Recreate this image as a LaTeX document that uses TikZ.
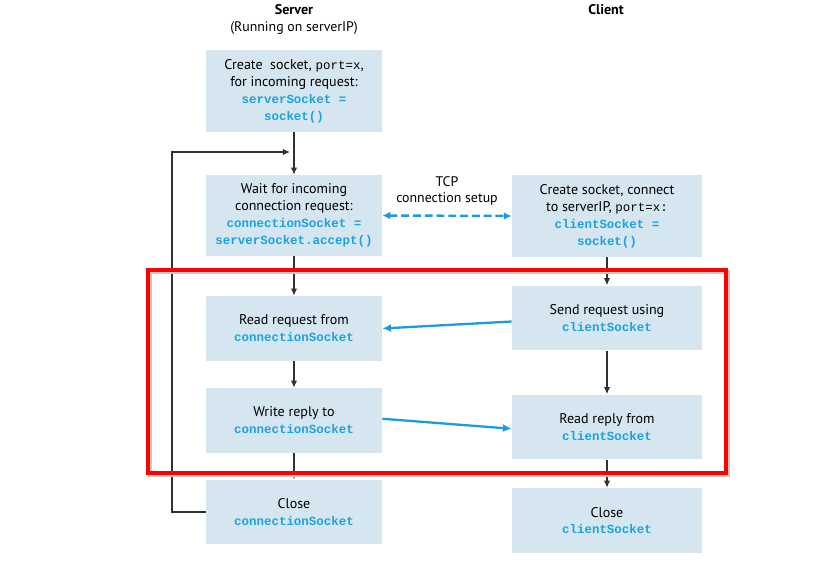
\documentclass[tikz,border=0pt]{standalone}
\usepackage{fontspec}
\setmainfont{PT Sans}
\newfontfamily\codefont{Liberation Mono}
\usetikzlibrary{arrows.meta}

\definecolor{boxfill}{RGB}{213,230,241}
\definecolor{codeblue}{RGB}{27,163,222}
\definecolor{linkblue}{RGB}{30,155,218}
\definecolor{flowgray}{RGB}{50,50,50}

\newcommand{\sockname}[1]{{\codefont\fontsize{7.1}{9.6}\selectfont\bfseries\color{codeblue}#1}}
\newcommand{\plaincode}[1]{{\codefont\fontsize{7.1}{9.6}\selectfont #1}}

\begin{document}
\begin{tikzpicture}[x=0.02cm,y=-0.02cm,
  stepbox/.style={fill=boxfill,align=center,inner sep=0pt,font=\fontsize{8}{9.6}\selectfont},
  serverbox/.style={stepbox,minimum width=3.52cm,minimum height=1.3cm},
  clientbox/.style={stepbox,minimum width=3.8cm,minimum height=1.3cm},
  title/.style={align=center,font=\fontsize{7.9}{9.6}\selectfont},
  flow/.style={draw=flowgray,line width=0.6pt,-{Latex[length=4pt,width=3.6pt]}},
  msg/.style={draw=linkblue,line width=1.3pt,-{Latex[length=5pt,width=4.6pt]}},
  handshake/.style={draw=linkblue,line width=1.4pt,dash pattern=on 4.5pt off 2.2pt,{Latex[length=4.5pt,width=4.5pt]}-{Latex[length=4.5pt,width=4.5pt]}}]

\useasboundingbox (0,0) rectangle (815,561);

\node[title,font=\fontsize{8}{9.6}\selectfont\bfseries] (servertitle) at (294,10) {Server};
\node[title] (serverip) at (294,28) {(Running on serverIP)};
\node[title,font=\fontsize{8}{9.6}\selectfont\bfseries] (clienttitle) at (606,10) {Client};

\node[serverbox,minimum height=1.64cm] (listen) at (294,91) {Create\ \ socket, \plaincode{port=x},\\for incoming request:\\\sockname{serverSocket =}\\\sockname{socket()}};
\node[serverbox,minimum height=1.62cm] (accept) at (294,215.5) {Wait for incoming\\connection request:\\\sockname{connectionSocket =}\\\sockname{serverSocket.accept()}};
\node[serverbox] (readreq) at (294,328.5) {Read request from\\\sockname{connectionSocket}};
\node[serverbox] (writerep) at (294,420.5) {Write reply to\\\sockname{connectionSocket}};
\node[serverbox] (sclose) at (294,512) {Close\\\sockname{connectionSocket}};

\node[clientbox,minimum height=1.64cm] (connect) at (607,216) {Create socket, connect\\to serverIP, \plaincode{port=x:}\\\sockname{clientSocket =}\\\sockname{socket()}};
\node[clientbox] (sendreq) at (607,318) {Send request using\\\sockname{clientSocket}};
\node[clientbox] (readrep) at (607,427) {Read reply from\\\sockname{clientSocket}};
\node[clientbox] (cclose) at (607,520.5) {Close\\\sockname{clientSocket}};

\node[title] (tcp) at (447,191) {TCP\\connection setup};

\coordinate (loopcorner) at (172,152);
\coordinate (loopend) at (290,152);

\draw[flow] (listen) -- (accept);
\draw[flow] (accept) -- (readreq);
\draw[flow] (readreq) -- (writerep);
\draw[flow] (writerep) -- (sclose);
\draw[flow] (sclose.west) -| (loopcorner) -- (loopend);

\draw[flow] (connect) -- (sendreq);
\draw[flow] (sendreq) -- (readrep);
\draw[flow] (readrep) -- (cclose);

\draw[handshake] (accept.east) -- (connect.west);
\draw[msg] ([yshift=-2pt]sendreq.west) -- (readreq.east);
\draw[msg] ([yshift=1pt]writerep.east) -- ([yshift=-1pt]readrep.west);

\draw[gray!45,line width=1.8pt] (150,272) rectangle (728,475);
\draw[red,line width=1.8pt] (148,270) rectangle (726,473);
\end{tikzpicture}
\end{document}
